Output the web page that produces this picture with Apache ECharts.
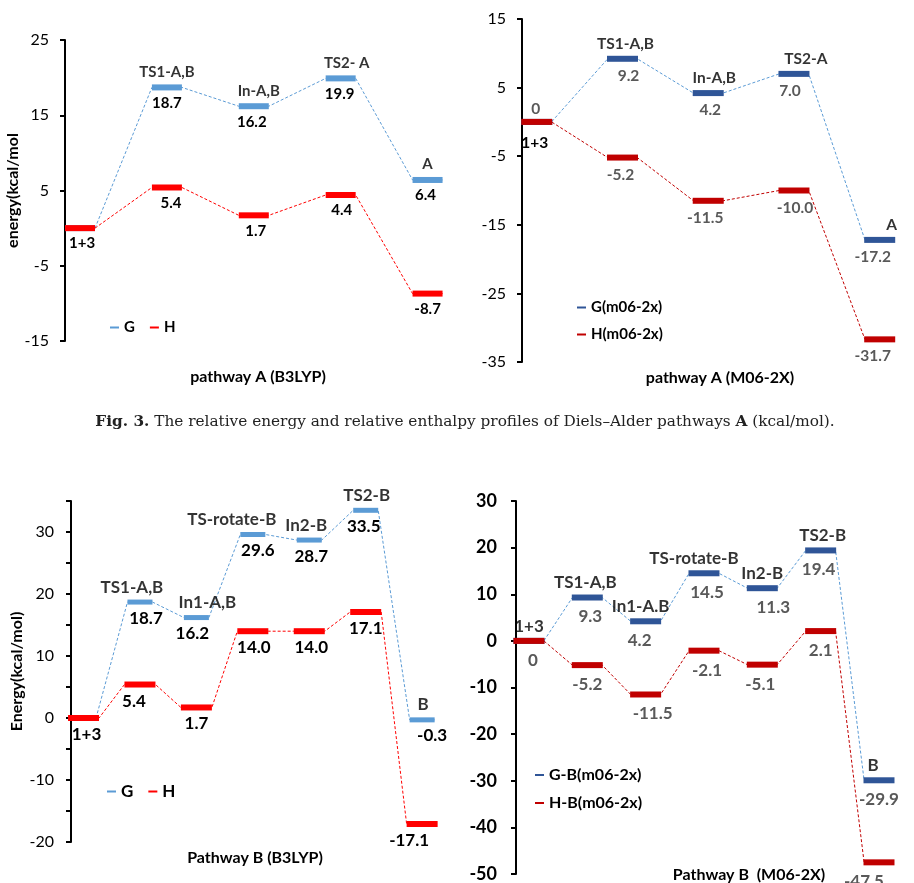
<!DOCTYPE html>
<html>
<head>
<meta charset="utf-8">
<script src="https://cdn.jsdelivr.net/npm/echarts@6/dist/echarts.min.js"></script>
<style>
  html, body { margin: 0; padding: 0; background: #fff; }
  #main { width: 914px; height: 883px; }
</style>
</head>
<body>
<div id="main"></div>
<script>
// ---- data ----
const catsA1 = ['1+3', 'TS1-A,B', 'In-A,B', 'TS2- A', 'A'];
const gA1 = [0, 18.7, 16.2, 19.9, 6.4];
const hA1 = [0, 5.4, 1.7, 4.4, -8.7];
const ticksA1 = [-15, -5, 5, 15, 25];

const catsA2 = ['1+3', 'TS1-A,B', 'In-A,B', 'TS2-A', 'A'];
const gA2 = [0, 9.2, 4.2, 7.0, -17.2];
const hA2 = [0, -5.2, -11.5, -10.0, -31.7];
const ticksA2 = [-35, -25, -15, -5, 5, 15];

const catsB1 = ['1+3', 'TS1-A,B', 'In1-A,B', 'TS-rotate-B', 'In2-B', 'TS2-B', 'B'];
const gB1 = [0, 18.7, 16.2, 29.6, 28.7, 33.5, -0.3];
const hB1 = [0, 5.4, 1.7, 14.0, 14.0, 17.1, -17.1];
const ticksB1 = [-20, -15, -10, -5, 0, 5, 10, 15, 20, 25, 30, 35];
const labelsB1 = [-20, -10, 0, 10, 20, 30];

const catsB2 = ['1+3', 'TS1-A,B', 'In1-A.B', 'TS-rotate-B', 'In2-B', 'TS2-B', 'B'];
const gB2 = [0, 9.3, 4.2, 14.5, 11.3, 19.4, -29.9];
const hB2 = [0, -5.2, -11.5, -2.1, -5.1, 2.1, -47.5];
const ticksB2 = [-50, -40, -30, -20, -10, 0, 10, 20, 30];

const F = 'Lato';
const fmt = v => v === 0 ? '0' : v.toFixed(1);

// layout / style per panel (label nudges in px are kept here, apart from the data)
const panels = [
  { left: 65, top: 40, width: 406, height: 301, xMin: -0.173, xMax: 4.5,
    yMin: -15, yMax: 25, ticks: ticksA1, labels: ticksA1,
    cats: catsA1, g: gA1, h: hA1, names: ['G', 'H'],
    gColor: '#5B9BD5', hColor: '#FF0000', gLine: '#5B9BD5', hLine: '#FF0000',
    gSize: [30, 6], hSize: [30, 6], valColor: '#000', fs: 15,
    axisFont: { fontSize: 16, fontWeight: 'normal' }, margin: 16,
    valDist: 5, nameDist: 5, first: 'plain',
    nameDx: [0, 0, 5, 6, 0], gDx: [0, 0, -2, -1, -2], hDx: [2, 4, 2, 1, 0],
    legend: { left: 105, top: 315, orient: 'horizontal', fs: 15 },
    yName: 'energy(kcal/mol', yNameGap: 40 },
  { left: 522, top: 19, width: 412, height: 343, xMin: -0.172, xMax: 4.4,
    yMin: -35, yMax: 15, ticks: ticksA2, labels: ticksA2,
    cats: catsA2, g: gA2, h: hA2, names: ['G(m06-2x)', 'H(m06-2x)'],
    gColor: '#2F5597', hColor: '#C00000', gLine: '#5B9BD5', hLine: '#C00000',
    gSize: [31, 6], hSize: [31, 6], valColor: '#595959', fs: 15.5,
    axisFont: { fontSize: 16, fontWeight: 'normal' }, margin: 16,
    valDist: 6, nameDist: 4, first: 'zeroAbove',
    nameDx: [0, 3, 6, 12, 12], gDx: [-1, 6, 2, -4, -7], hDx: [-2, -2, -3, 1, -7],
    legend: { left: 572, top: 295, orient: 'vertical', fs: 15 } },
  { left: 71, top: 501, width: 385, height: 341, xMin: -0.222, xMax: 6.6,
    yMin: -20, yMax: 35, ticks: ticksB1, labels: labelsB1,
    cats: catsB1, g: gB1, h: hB1, names: ['G', 'H'],
    gColor: '#5B9BD5', hColor: '#FF0000', gLine: '#5B9BD5', hLine: '#FF0000',
    gSize: [25, 5], hSize: [31, 6], valColor: '#000', fs: 17,
    axisFont: { fontSize: 16, fontWeight: 'normal' }, margin: 17,
    valDist: 5, nameDist: 4, first: 'plain',
    nameDx: [0, -8, 11, -21, -3, 1, 1], gDx: [0, 6, -4, 5, 2, -2, 10], hDx: [3, -6, 0, 1, 2, 0, -13],
    legend: { left: 102, top: 778, orient: 'horizontal', fs: 17 },
    yName: 'Energy(kcal/mol)', yNameGap: 46 },
  { left: 516, top: 501, width: 414, height: 373, xMin: -0.222, xMax: 6.6,
    yMin: -50, yMax: 30, ticks: ticksB2, labels: ticksB2,
    cats: catsB2, g: gB2, h: hB2, names: ['G-B(m06-2x)', 'H-B(m06-2x)'],
    gColor: '#2F5597', hColor: '#C00000', gLine: '#5B9BD5', hLine: '#C00000',
    gSize: [31, 6], hSize: [31, 6], valColor: '#595959', fs: 17,
    axisFont: { fontSize: 18, fontWeight: 'bold' }, margin: 19,
    valDist: 8, nameDist: 3, first: 'nameAbove',
    nameDx: [0, -2, -5, -10, 0, 2, -6], gDx: [0, 3, -6, 3, 11, -2, 0], hDx: [4, 0, 7, 3, -2, 0, -15],
    legend: { left: 530, top: 762, orient: 'vertical', fs: 16 } }
];

const grid = [], xAxis = [], yAxis = [], series = [], legend = [];

panels.forEach((p, k) => {
  const spacing = p.width / (p.xMax - p.xMin);
  const lineData = (vals, w) => {
    const hw = (w / 2) / spacing;
    const out = [];
    vals.forEach((v, i) => { out.push([i - hw, v], [i + hw, v]); });
    return out;
  };
  const lbl = (color, pos, dist) => ({
    show: true, position: pos, distance: dist, formatter: '{b}',
    color: color, fontWeight: 'bold', fontSize: p.fs, fontFamily: F
  });

  grid.push({ left: p.left, top: p.top, width: p.width, height: p.height, containLabel: false });
  xAxis.push({ type: 'value', gridIndex: k, min: p.xMin, max: p.xMax, show: false });
  yAxis.push({
    type: 'value', gridIndex: k, min: p.yMin, max: p.yMax,
    name: p.yName || '', nameLocation: 'middle', nameRotate: 90, nameGap: p.yNameGap || 0,
    nameTextStyle: { fontFamily: F, fontWeight: 'bold', fontSize: 16, color: '#000' },
    axisLine: { show: true, onZero: false, lineStyle: { color: '#000', width: 2 } },
    axisTick: { show: true, length: 5, customValues: p.ticks, lineStyle: { color: '#000', width: 2 } },
    axisLabel: { customValues: p.labels, margin: p.margin, color: '#000',
      fontFamily: F, fontSize: p.axisFont.fontSize, fontWeight: p.axisFont.fontWeight },
    splitLine: { show: false }
  });

  const gBars = p.g.map((v, i) => ({ name: fmt(v), value: [i, v], label: { offset: [p.gDx[i], 0] } }));
  const hBars = p.h.map((v, i) => ({ name: fmt(v), value: [i, v], label: { offset: [p.hDx[i], 0] } }));
  const names = p.cats.map((c, i) => ({ name: c, value: [i, p.g[i]], label: { offset: [p.nameDx[i], 0] } }));

  if (p.first === 'plain') {
    gBars[0].label = { show: false };
    names[0].label = { show: false };
    hBars[0].name = p.cats[0];
    hBars[0].label = { color: '#000', offset: [p.hDx[0], 0] };
  } else if (p.first === 'zeroAbove') {
    gBars[0].label = { position: 'top', distance: 2, offset: [p.gDx[0], 0] };
    names[0].label = { show: false };
    hBars[0].name = p.cats[0];
    hBars[0].label = { color: '#000', distance: 10, offset: [p.hDx[0], 0] };
  } else {
    gBars[0].label = { show: false };
  }

  series.push(
    { type: 'line', name: p.names[0] + ' path', xAxisIndex: k, yAxisIndex: k,
      data: lineData(p.g, p.gSize[0]), symbol: 'none', silent: true, z: 2,
      lineStyle: { color: p.gLine, width: 1, type: [3, 2] } },
    { type: 'line', name: p.names[1] + ' path', xAxisIndex: k, yAxisIndex: k,
      data: lineData(p.h, p.hSize[0]), symbol: 'none', silent: true, z: 2,
      lineStyle: { color: p.hLine, width: 1, type: [3, 2] } },
    { type: 'scatter', name: p.names[0], xAxisIndex: k, yAxisIndex: k,
      symbol: 'rect', symbolSize: p.gSize, itemStyle: { color: p.gColor, opacity: 1 },
      data: gBars, z: 3, label: lbl(p.valColor, 'bottom', p.valDist) },
    { type: 'scatter', name: p.names[1], xAxisIndex: k, yAxisIndex: k,
      symbol: 'rect', symbolSize: p.hSize, itemStyle: { color: p.hColor, opacity: 1 },
      data: hBars, z: 4, label: lbl(p.valColor, 'bottom', p.valDist) },
    { type: 'scatter', name: 'states ' + k, xAxisIndex: k, yAxisIndex: k,
      symbol: 'rect', symbolSize: p.gSize, itemStyle: { color: 'rgba(0,0,0,0)' }, silent: true,
      data: names, z: 5, label: lbl('#000', 'top', p.nameDist) }
  );

  legend.push({
    data: p.names, left: p.legend.left, top: p.legend.top, orient: p.legend.orient,
    icon: 'rect', itemWidth: 9, itemHeight: 2, itemGap: p.legend.orient === 'vertical' ? 12 : 15,
    selectedMode: false,
    textStyle: { fontFamily: F, fontWeight: 'bold', fontSize: p.legend.fs, color: '#000' }
  });
});

const xNames = [
  { text: 'pathway A (B3LYP)', x: 258, y: 377 },
  { text: 'pathway A (M06-2X)', x: 720, y: 378 },
  { text: 'Pathway B (B3LYP)', x: 255, y: 858 },
  { text: 'Pathway B  (M06-2X)', x: 749, y: 875 }
];

const option = {
  animation: false,
  backgroundColor: '#fff',
  title: {
    text: '{b|Fig. 3.} The relative energy and relative enthalpy profiles of Diels\u2013Alder pathways {b|A} (kcal/mol).',
    left: 460, top: 410, textAlign: 'center',
    textStyle: {
      fontFamily: 'DejaVu Serif', fontSize: 15.3, fontWeight: 'normal', color: '#222',
      rich: { b: { fontFamily: 'DejaVu Serif', fontSize: 15.3, fontWeight: 'bold', color: '#222' } }
    }
  },
  grid: grid,
  xAxis: xAxis,
  yAxis: yAxis,
  legend: legend,
  series: series,
  graphic: xNames.map(n => ({
    type: 'text', x: n.x, y: n.y, silent: true,
    style: { text: n.text, fontFamily: F, fontWeight: 'bold', fontSize: 16, fill: '#000',
      align: 'center', verticalAlign: 'middle' }
  }))
};

const chart = echarts.init(document.getElementById('main'), null, { renderer: 'canvas' });
chart.setOption(option);
</script>
</body>
</html>
